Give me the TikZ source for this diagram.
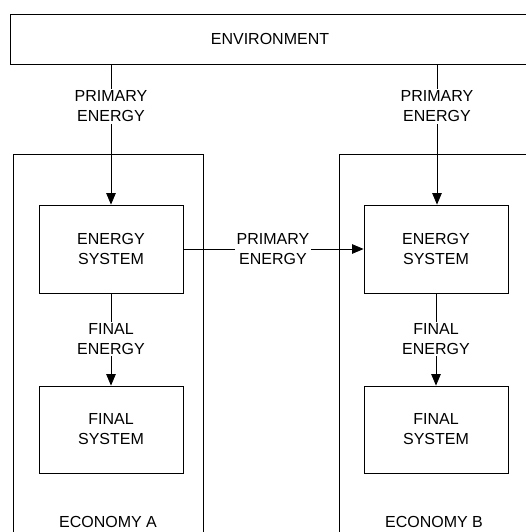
\documentclass[tikz,border=0pt]{standalone}
\usepackage{fontspec}
\setmainfont{Liberation Sans}
\usetikzlibrary{arrows.meta}
\tikzset{
  txt/.style={font=\fontsize{16}{20}\selectfont, align=center},
  box/.style={txt, draw=black, line width=0.8pt, rectangle, inner sep=0pt},
  lbl/.style={txt, inner sep=1.5pt},
  flow/.style={draw=black, line width=0.8pt},
  arr/.style={flow, -{Triangle[length=11.5pt,width=9.5pt]}}
}
\begin{document}
\begin{tikzpicture}[x=1pt,y=-1pt]
\clip (0,0) rectangle (526,532);
\fill[white] (0,0) rectangle (526,532);
% environment
\node[box, minimum width=520pt, minimum height=50pt] (env) at (270,39) {ENVIRONMENT};
% economies
\node[box, minimum width=190pt, minimum height=391pt] (ecoA) at (108,349.5) {};
\node[box, minimum width=190pt, minimum height=391pt] (ecoB) at (434,349.5) {};
\node[lbl] (ecoAlbl) at (108,522) {ECONOMY A};
\node[lbl] (ecoBlbl) at (434,522) {ECONOMY B};
% systems
\node[box, minimum width=144pt, minimum height=88pt] (esA) at (111,249) {ENERGY\\SYSTEM};
\node[box, minimum width=144pt, minimum height=88pt] (esB) at (436,249) {ENERGY\\SYSTEM};
\node[box, minimum width=144pt, minimum height=87pt] (fsA) at (111,429.5) {FINAL\\SYSTEM};
\node[box, minimum width=144pt, minimum height=87pt] (fsB) at (436,429.5) {FINAL\\SYSTEM};
% flow labels
\node[lbl] (peA) at (111,106.5) {PRIMARY\\ENERGY};
\node[lbl] (peB) at (437,106.5) {PRIMARY\\ENERGY};
\node[lbl] (peX) at (273,249) {PRIMARY\\ENERGY};
\node[lbl] (feA) at (111,339) {FINAL\\ENERGY};
\node[lbl] (feB) at (436,339) {FINAL\\ENERGY};
% connectors
\draw[flow] (env.south -| peA) -- (peA.north);
\draw[arr] (peA.south) -- (esA.north -| peA);
\draw[flow] (env.south -| peB) -- (peB.north);
\draw[arr] (peB.south) -- (esB.north -| peB);
\draw[flow] (esA.east) -- (peX.west);
\draw[arr] (peX.east) -- (esB.west);
\draw[flow] (esA.south) -- (feA.north);
\draw[arr] (feA.south) -- (fsA.north);
\draw[flow] (esB.south) -- (feB.north);
\draw[arr] (feB.south) -- (fsB.north);
\end{tikzpicture}
\end{document}
